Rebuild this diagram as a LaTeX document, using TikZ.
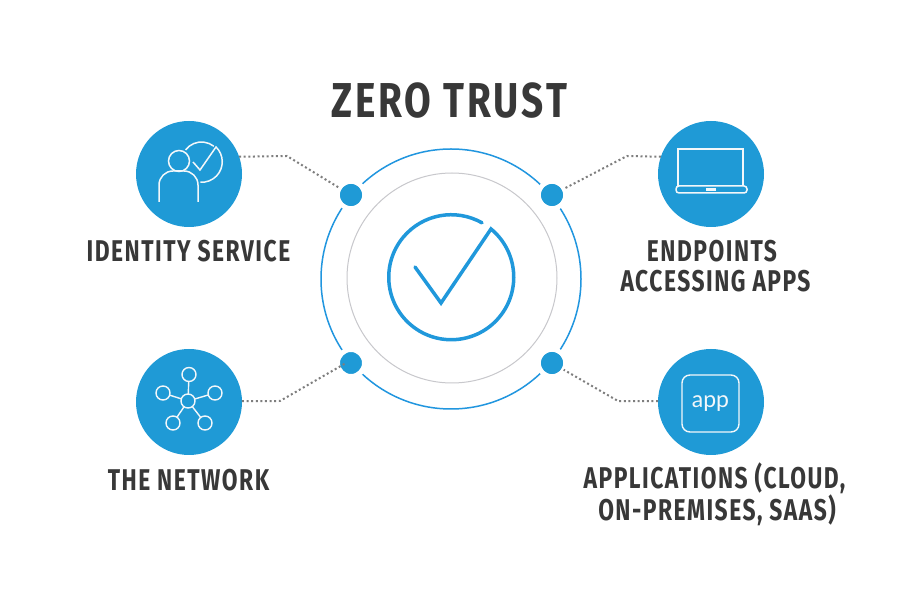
\documentclass[tikz,border=0pt]{standalone}
\usepackage{fontspec}
\newfontfamily\lblfont[FakeStretch=0.76,LetterSpace=5]{Fira Sans}
\newfontfamily\ttlfont[FakeStretch=0.79,LetterSpace=6]{Fira Sans}
\newfontfamily\appfont{Lato}
\definecolor{hubblue}{HTML}{1F9AD6}
\definecolor{ringblue}{HTML}{2196DF}
\definecolor{ringgrey}{HTML}{C8C8CC}
\definecolor{inkdark}{HTML}{383838}
\definecolor{dotgrey}{HTML}{7E7E7E}
\definecolor{iconline}{HTML}{F2F7FA}
\tikzset{
  x=1pt,y=1pt,
  hubcircle/.style={circle,fill=hubblue,minimum size=106pt,inner sep=0pt,outer sep=0pt},
  ringdot/.style={circle,fill=hubblue,draw=white,line width=5pt,minimum size=27pt,inner sep=0pt,outer sep=0pt},
  dotlink/.style={draw=dotgrey,line width=2pt,dash pattern=on 2pt off 2.6pt},
  lbl/.style={anchor=base,inner sep=0pt,text=inkdark,font=\lblfont\bfseries\fontsize{30}{30}\selectfont},
  ttl/.style={anchor=base,inner sep=0pt,text=inkdark,font=\ttlfont\bfseries\fontsize{49}{49}\selectfont},
  iconstroke/.style={draw=iconline,line width=1.5pt},
  satnode/.style={circle,draw=iconline,line width=1.4pt,minimum size=14pt,inner sep=0pt,outer sep=0pt},
}
\begin{document}
\begin{tikzpicture}
\useasboundingbox (0,0) rectangle (900,600);
\fill[white] (0,0) rectangle (900,600);
\node[ttl] (title) at (449,482) {ZERO TRUST};
% rings
\node[circle,draw=ringblue,line width=1.5pt,minimum size=260pt,inner sep=0pt] (outer) at (451,321) {};
\node[circle,draw=ringgrey,line width=1pt,minimum size=210pt,inner sep=0pt] (inner) at (452,322) {};
% central check
\draw[ringblue!60!hubblue,line width=3.5pt,line join=miter,line cap=round]
  (415,333) -- (441,297) -- (491,371) arc[start angle=50.5,end angle=-299.5,radius=62.5];
% dots
\node[ringdot] (dA) at (351,405) {};
\node[ringdot] (dB) at (552,405) {};
\node[ringdot] (dC) at (351,237) {};
\node[ringdot] (dD) at (552,237) {};
% hubs
\node[hubcircle] (hA) at (189,426) {};
\node[hubcircle] (hB) at (711,426) {};
\node[hubcircle] (hC) at (189,198) {};
\node[hubcircle] (hD) at (711,198) {};
% bends
\coordinate (bA) at (287,444);
\coordinate (bB) at (627,444);
\coordinate (bC) at (280,199);
\coordinate (bD) at (618,199);
% connectors
\draw[dotlink] (hA.19) -- (bA) -- (dA);
\draw[dotlink] (hB.161) -- (bB) -- (dB);
\draw[dotlink] (hC.1) -- (bC) -- ([xshift=-5pt]dC.center);
\draw[dotlink] (hD.179) -- (bD) -- (dD);
% redraw dots over line ends that overrun
\fill[hubblue] (dA) circle[radius=11];
\fill[hubblue] (dB) circle[radius=11];
\fill[hubblue] (dD) circle[radius=11];
% identity icon
\node[circle,iconstroke,minimum size=21pt,inner sep=0pt] (head) at (179,439) {};
\draw[iconstroke,rounded corners=14pt] (159,398) -- (159,429) -- (198,429) -- (198,398);
\draw[iconstroke] (201.5,438)+(143:20) arc[start angle=143,end angle=52,radius=20];
\draw[iconstroke,line join=miter] (193,438) -- (200,430) -- (216,453) arc[start angle=46,end angle=-94,radius=20.5];
% laptop icon
\draw[iconstroke] (678,414) -- (678,451) -- (743,451) -- (743,414);
\draw[iconstroke,rounded corners=3pt] (676,414) -- (747,414) -- (747,407) -- (676,407) -- cycle;
\fill[iconline] (706,409) rectangle (716,412);
% network icon
\node[satnode] (nC) at (188,199) {};
\node[satnode] (n1) at (189,225.5) {};
\node[satnode] (n2) at (163,207) {};
\node[satnode] (n3) at (215,207) {};
\node[satnode] (n4) at (173,177) {};
\node[satnode] (n5) at (205,177) {};
\foreach \s in {n1,n2,n3,n4,n5} \draw[iconline,line width=1.4pt] (nC) -- (\s);
% app icon
\node[draw=iconline,line width=1.4pt,rounded corners=8pt,minimum size=57pt,inner sep=0pt,outer sep=0pt,text=iconline,font=\appfont\fontsize{23}{23}\selectfont] (appbox) at (710.5,196.5) {app};
% labels
\node[lbl] (l1) at (188.5,338) {IDENTITY SERVICE};
\node[lbl] (l2) at (188.5,109) {THE NETWORK};
\node[lbl] (l3a) at (712,338) {ENDPOINTS};
\node[lbl] (l3b) at (715.5,308) {ACCESSING APPS};
\node[lbl] (l4a) at (714.5,111) {APPLICATIONS (CLOUD,};
\node[lbl] (l4b) at (717,79) {ON-PREMISES, SAAS)};
\end{tikzpicture}
\end{document}
